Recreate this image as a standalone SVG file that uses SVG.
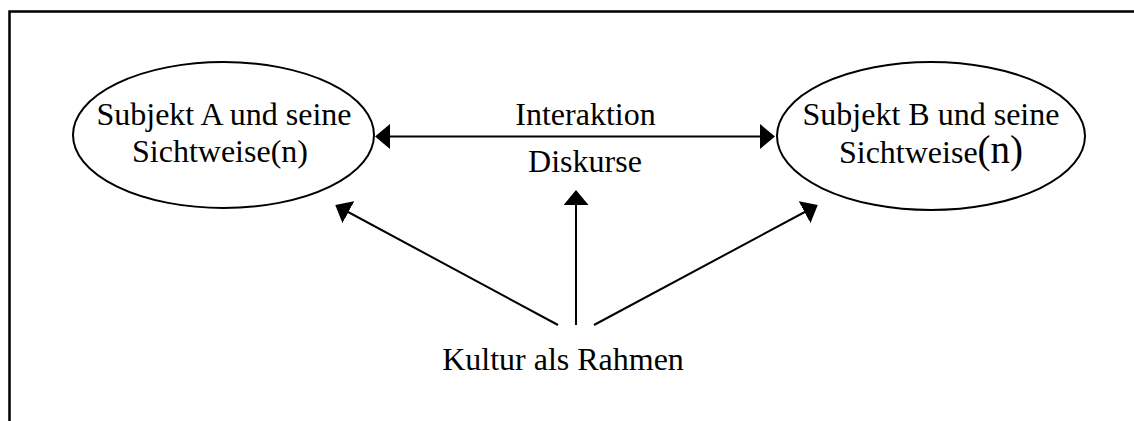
<svg xmlns="http://www.w3.org/2000/svg" width="1134" height="421" viewBox="0 0 1134 421">
  <style>
    text { font-family: "Liberation Serif", "Times New Roman", serif; font-size: 32px; fill: #000; text-anchor: middle; }
    .node { fill: #fff; stroke: #000; stroke-width: 2; }
    .conn { stroke: #000; stroke-width: 2; fill: none; }
    .frame { stroke: #000; stroke-width: 2.5; fill: none; }
  </style>
  <defs>
    <marker id="arrow" viewBox="0 0 15 25" refX="13" refY="12.5" markerWidth="15" markerHeight="25" markerUnits="userSpaceOnUse" orient="auto-start-reverse">
      <path d="M0,0 L15,12.5 L0,25 z" fill="#000"/>
    </marker>
  </defs>
  <rect width="1134" height="421" fill="#fff"/>
  <path class="frame" d="M9.5,421 L9.5,11.5 L1134,11.5"/>

  <g id="subjektA">
    <ellipse class="node" cx="223.5" cy="135" rx="150.5" ry="73"/>
    <text x="224" y="125" font-size="33">Subjekt A und seine</text>
    <text x="220" y="162" font-size="33">Sichtweise(n)</text>
  </g>

  <g id="subjektB">
    <ellipse class="node" cx="931" cy="136" rx="154" ry="74"/>
    <text x="931" y="125" font-size="33">Subjekt B und seine</text>
    <text x="931" y="163" font-size="31.5">Sichtweise<tspan font-size="39">(n)</tspan></text>
  </g>

  <g id="interaktion">
    <text x="585.5" y="125" font-size="31.7">Interaktion</text>
    <text x="585" y="172" font-size="31.5">Diskurse</text>
  </g>

  <g id="kultur">
    <text x="563" y="370" font-size="30.7">Kultur als Rahmen</text>
  </g>

  <g id="connectors">
    <line class="conn" x1="377" y1="136.5" x2="773" y2="136.5" marker-start="url(#arrow)" marker-end="url(#arrow)"/>
    <line class="conn" x1="576" y1="325" x2="576" y2="192" marker-end="url(#arrow)"/>
    <line class="conn" x1="558" y1="325" x2="337" y2="206" marker-end="url(#arrow)"/>
    <line class="conn" x1="594" y1="325" x2="816" y2="206" marker-end="url(#arrow)"/>
  </g>
</svg>
